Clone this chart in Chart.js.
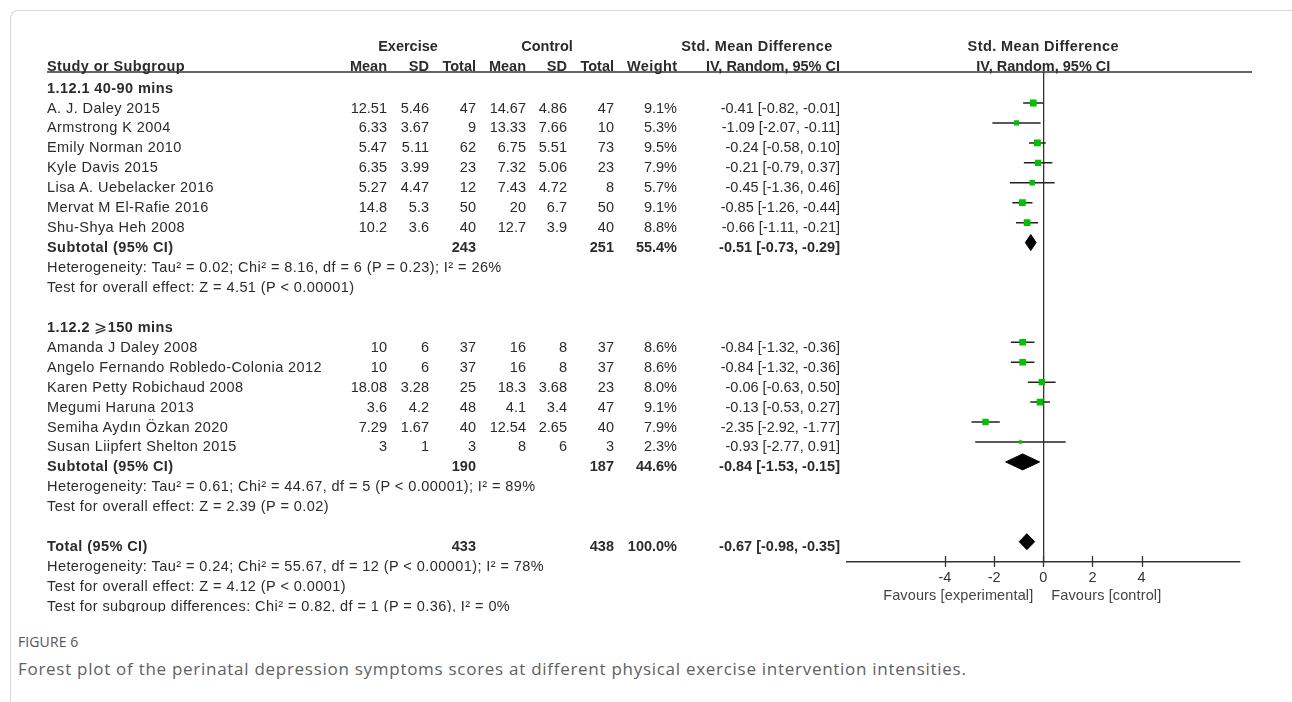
<!DOCTYPE html>
<html><head><meta charset="utf-8">
<script src="https://cdn.jsdelivr.net/npm/chart.js@4.4.1/dist/chart.umd.min.js"></script>
<style>
html,body{margin:0;padding:0;background:#fff;}
body{width:1292px;height:702px;position:relative;overflow:hidden;font-family:"Liberation Sans",Arial,sans-serif;}
#frame{position:absolute;left:10px;top:10px;width:1320px;height:740px;border-left:1px solid #d6d6d6;border-top:1px solid #d6d6d6;border-top-left-radius:8px;box-sizing:border-box;}
#fig{position:absolute;left:0;top:0;width:1292px;height:612px;overflow:hidden;}
#c{position:absolute;left:0;top:0;}
.t{position:absolute;white-space:nowrap;font-size:14.5px;color:#2b2b2b;line-height:16px;}
.b{font-weight:bold;}
.w{letter-spacing:0.43px;}
.h{letter-spacing:0.4px;}
.f{letter-spacing:0.12px;}
.ge{font-family:"DejaVu Sans","Liberation Sans",sans-serif;font-weight:normal;font-size:15.5px;}
#figlabel{position:absolute;left:18px;top:632px;font-family:"Open Sans",sans-serif;font-size:14px;color:#555;letter-spacing:0.1px;}
#caption{position:absolute;left:18px;top:657px;font-family:"Open Sans",sans-serif;font-size:17px;letter-spacing:0.72px;color:#5f5f5f;}
</style></head>
<body>
<div id="frame"></div>
<div id="fig"><canvas id="c" width="1292" height="702"></canvas></div>
<div id="figlabel">FIGURE 6</div>
<div id="caption">Forest plot of the perinatal depression symptoms scores at different physical exercise intervention intensities.</div>
<script>
// ---- data ----
const group1Title = "1.12.1 40-90 mins";
const group1Names = ["A. J. Daley 2015","Armstrong K 2004","Emily Norman 2010","Kyle Davis 2015","Lisa A. Uebelacker 2016","Mervat M El-Rafie 2016","Shu-Shya Heh 2008"];
const group1ExMean = [12.51,6.33,5.47,6.35,5.27,14.8,10.2];
const group1ExSD = [5.46,3.67,5.11,3.99,4.47,5.3,3.6];
const group1ExN = [47,9,62,23,12,50,40];
const group1CtMean = [14.67,13.33,6.75,7.32,7.43,20,12.7];
const group1CtSD = [4.86,7.66,5.51,5.06,4.72,6.7,3.9];
const group1CtN = [47,10,73,23,8,50,40];
const group1Weight = [9.1,5.3,9.5,7.9,5.7,9.1,8.8];
const group1SMD = [-0.41,-1.09,-0.24,-0.21,-0.45,-0.85,-0.66];
const group1Lo = [-0.82,-2.07,-0.58,-0.79,-1.36,-1.26,-1.11];
const group1Hi = [-0.01,-0.11,0.10,0.37,0.46,-0.44,-0.21];
const group1Sub = {exN:243, ctN:251, weight:55.4, smd:-0.51, lo:-0.73, hi:-0.29};
const group1Het = "Heterogeneity: Tau\u00b2 = 0.02; Chi\u00b2 = 8.16, df = 6 (P = 0.23); I\u00b2 = 26%";
const group1Test = "Test for overall effect: Z = 4.51 (P < 0.00001)";

const group2Title = ["1.12.2 ", "\u2A7E", "150 mins"];
const group2Names = ["Amanda J Daley 2008","Angelo Fernando Robledo-Colonia 2012","Karen Petty Robichaud 2008","Megumi Haruna 2013","Semiha Ayd\u0131n \u00d6zkan 2020","Susan Liipfert Shelton 2015"];
const group2ExMean = [10,10,18.08,3.6,7.29,3];
const group2ExSD = [6,6,3.28,4.2,1.67,1];
const group2ExN = [37,37,25,48,40,3];
const group2CtMean = [16,16,18.3,4.1,12.54,8];
const group2CtSD = [8,8,3.68,3.4,2.65,6];
const group2CtN = [37,37,23,47,40,3];
const group2Weight = [8.6,8.6,8.0,9.1,7.9,2.3];
const group2SMD = [-0.84,-0.84,-0.06,-0.13,-2.35,-0.93];
const group2Lo = [-1.32,-1.32,-0.63,-0.53,-2.92,-2.77];
const group2Hi = [-0.36,-0.36,0.50,0.27,-1.77,0.91];
const group2Sub = {exN:190, ctN:187, weight:44.6, smd:-0.84, lo:-1.53, hi:-0.15};
const group2Het = "Heterogeneity: Tau\u00b2 = 0.61; Chi\u00b2 = 44.67, df = 5 (P < 0.00001); I\u00b2 = 89%";
const group2Test = "Test for overall effect: Z = 2.39 (P = 0.02)";

const totalRow = {exN:433, ctN:438, weight:100.0, smd:-0.67, lo:-0.98, hi:-0.35};
const totalHet = "Heterogeneity: Tau\u00b2 = 0.24; Chi\u00b2 = 55.67, df = 12 (P < 0.00001); I\u00b2 = 78%";
const totalTest = "Test for overall effect: Z = 4.12 (P < 0.0001)";
const subgroupTest = "Test for subgroup differences: Chi\u00b2 = 0.82, df = 1 (P = 0.36), I\u00b2 = 0%";

const xTicks = [-4,-2,0,2,4];
const favourLeft = "Favours [experimental]";
const favourRight = "Favours [control]";

// row indices (table layout)
const g1Rows = group1Names.map((_,i)=>i+1);
const g1SubRow = 8, g1HetRow = 9, g1TestRow = 10;
const g2HeadRow = 12;
const g2Rows = group2Names.map((_,i)=>i+13);
const g2SubRow = 19, g2HetRow = 20, g2TestRow = 21;
const totRow = 23, totHetRow = 24, totTestRow = 25, subTestRow = 26;

// column right edges
const COL = {name:47, exMean:387, exSD:429, exN:476, ctMean:526, ctSD:567, ctN:614, weight:677, ci:840};

const fmtCI = (m,l,h)=>`${m.toFixed(2)} [${l.toFixed(2)}, ${h.toFixed(2)}]`;

// ---- datasets ----
const datasets = [];
const allSMD = group1SMD.concat(group2SMD);
const allW = group1Weight.concat(group2Weight);
const allRows = g1Rows.concat(g2Rows);
const allLo = group1Lo.concat(group2Lo);
const allHi = group1Hi.concat(group2Hi);
datasets.push({
  label:'studies', order:0,
  data: allSMD.map((v,i)=>({x:v,y:allRows[i]})),
  pointStyle:'rect',
  pointRadius: allW.map(w=>2.25*Math.sqrt(w)/Math.SQRT2),
  backgroundColor:'#00c000', borderColor:'#00c000', borderWidth:0
});
allRows.forEach((r,i)=>{
  datasets.push({label:'ci'+i, order:2, showLine:true, pointRadius:0, borderColor:'#222', borderWidth:1.5,
    data:[{x:allLo[i],y:r},{x:allHi[i],y:r}]});
});
function diamond(s,row){
  const h=0.4;
  return {label:'d'+row, order:1, showLine:true, pointRadius:0, borderColor:'#000', backgroundColor:'#000', borderWidth:1, fill:'shape', tension:0,
    data:[{x:s.lo,y:row},{x:s.smd,y:row-h},{x:s.hi,y:row},{x:s.smd,y:row+h},{x:s.lo,y:row}]};
}
datasets.push(diamond(group1Sub,g1SubRow));
datasets.push(diamond(group2Sub,g2SubRow));
datasets.push(diamond(totalRow,totRow));

const tickMarks = {id:'tickMarks', afterDraw(chart){
  const s=chart.scales.x, c=chart.ctx, y0=s.top;
  c.save(); c.strokeStyle='#333'; c.lineWidth=1.3;
  s.ticks.forEach(t=>{const px=Math.round(s.getPixelForValue(t.value))+0.5; c.beginPath(); c.moveTo(px,y0-6); c.lineTo(px,y0+5); c.stroke();});
  c.restore();
}};
const headerLine = {id:'headerLine', afterDraw(chart){
  const c=chart.ctx, y=chart.chartArea.top;
  c.save(); c.strokeStyle='#333'; c.lineWidth=1.5; c.beginPath(); c.moveTo(47,y); c.lineTo(1252,y); c.stroke(); c.restore();
}};

const chart = new Chart(document.getElementById('c'), {
  type:'scatter',
  data:{datasets},
  options:{
    responsive:false, animation:false, devicePixelRatio:1,
    layout:{padding:{left:846.6, right:52, top:72, bottom:100}},
    plugins:{legend:{display:false}, tooltip:{enabled:false}},
    scales:{
      x:{type:'linear', min:-8, max:8,
        afterBuildTicks:s=>{s.ticks=xTicks.map(v=>({value:v}));},
        afterFit:s=>{s.height=40;},
        grid:{drawTicks:false, lineWidth:1.3, color:c=>(c.tick && c.tick.value===0)?'#333':'rgba(0,0,0,0)'},
        border:{display:true, color:'#333', width:1.5},
        ticks:{padding:7, color:'#333', autoSkip:false, maxRotation:0, font:{family:'Liberation Sans', size:14.5}, callback:v=>String(v)}
      },
      y:{type:'linear', reverse:true, min:-0.555, max:24.02, display:false}
    }
  },
  plugins:[tickMarks, headerLine]
});

// ---- table text (HTML), positioned with the chart's y scale ----
const fig = document.getElementById('fig');
function put(text, x, y, align, cls, color){
  const d=document.createElement('div');
  d.className='t '+(cls||'');
  if(Array.isArray(text)){
    text.forEach((p,i)=>{const s=document.createElement('span'); s.textContent=p; if(i===1) s.className='ge'; d.appendChild(s);});
  } else d.textContent=text;
  d.style.top=(y-8)+'px';
  if(color) d.style.color=color;
  if(align==='right'){ d.style.right=(1292-x)+'px'; }
  else if(align==='center'){ d.style.left=(x-200)+'px'; d.style.width='400px'; d.style.textAlign='center'; }
  else d.style.left=x+'px';
  fig.appendChild(d);
}
const ys = chart.scales.y, xs = chart.scales.x;
const rowY = r => ys.getPixelForValue(r)+4.5;

// headers
put("Exercise",408,46,'center','b');
put("Control",547,46,'center','b');
put("Std. Mean Difference",757,46,'center','b h');
put("Std. Mean Difference",xs.getPixelForValue(0),46,'center','b h');
put("Study or Subgroup",COL.name,66,'left','b h');
put("Mean",COL.exMean,66,'right','b');
put("SD",COL.exSD,66,'right','b');
put("Total",COL.exN,66,'right','b');
put("Mean",COL.ctMean,66,'right','b');
put("SD",COL.ctSD,66,'right','b');
put("Total",COL.ctN,66,'right','b');
put("Weight",COL.weight+0.5,66,'right','b h');
put("IV, Random, 95% CI",COL.ci,66,'right','b');
put("IV, Random, 95% CI",xs.getPixelForValue(0),66,'center','b');

function studyRows(names,exM,exS,exN,ctM,ctS,ctN,w,m,l,h,rows){
  names.forEach((n,i)=>{
    const y=rowY(rows[i]);
    put(n,COL.name,y,'left','w');
    put(String(exM[i]),COL.exMean,y,'right');
    put(String(exS[i]),COL.exSD,y,'right');
    put(String(exN[i]),COL.exN,y,'right');
    put(String(ctM[i]),COL.ctMean,y,'right');
    put(String(ctS[i]),COL.ctSD,y,'right');
    put(String(ctN[i]),COL.ctN,y,'right');
    put(w[i].toFixed(1)+'%',COL.weight,y,'right');
    put(fmtCI(m[i],l[i],h[i]),COL.ci,y,'right');
  });
}
function sumRow(label,s,row){
  const y=rowY(row);
  put(label,COL.name,y,'left','b w');
  put(String(s.exN),COL.exN,y,'right','b');
  put(String(s.ctN),COL.ctN,y,'right','b');
  put(s.weight.toFixed(1)+'%',COL.weight,y,'right','b');
  put(fmtCI(s.smd,s.lo,s.hi),COL.ci,y,'right','b');
}
put(group1Title,COL.name,rowY(0),'left','b w');
studyRows(group1Names,group1ExMean,group1ExSD,group1ExN,group1CtMean,group1CtSD,group1CtN,group1Weight,group1SMD,group1Lo,group1Hi,g1Rows);
sumRow("Subtotal (95% CI)",group1Sub,g1SubRow);
put(group1Het,COL.name,rowY(g1HetRow),'left','w');
put(group1Test,COL.name,rowY(g1TestRow),'left','w');
put(group2Title,COL.name,rowY(g2HeadRow),'left','b w');
studyRows(group2Names,group2ExMean,group2ExSD,group2ExN,group2CtMean,group2CtSD,group2CtN,group2Weight,group2SMD,group2Lo,group2Hi,g2Rows);
sumRow("Subtotal (95% CI)",group2Sub,g2SubRow);
put(group2Het,COL.name,rowY(g2HetRow),'left','w');
put(group2Test,COL.name,rowY(g2TestRow),'left','w');
sumRow("Total (95% CI)",totalRow,totRow);
put(totalHet,COL.name,rowY(totHetRow),'left','w');
put(totalTest,COL.name,rowY(totTestRow),'left','w');
put(subgroupTest,COL.name,rowY(subTestRow),'left','w');

const zx = xs.getPixelForValue(0);
put(favourLeft,zx-10,595,'right','f','#444');
put(favourRight,zx+8,595,'left','f','#444');
</script>
</body></html>
